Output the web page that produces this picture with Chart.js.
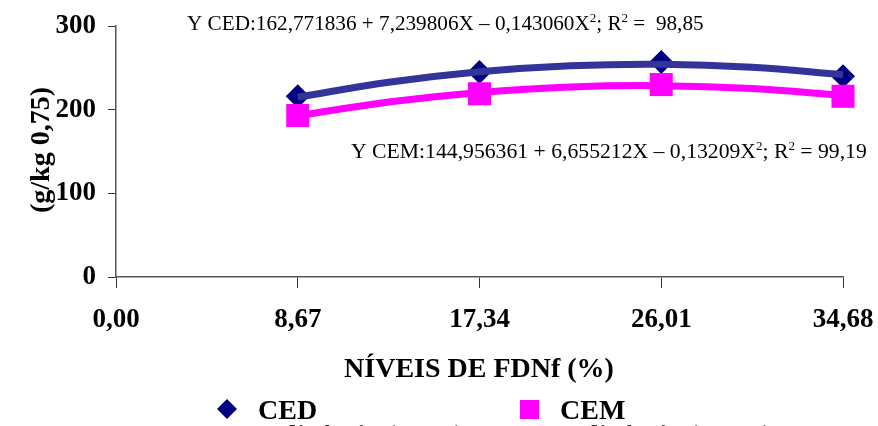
<!DOCTYPE html>
<html>
<head>
<meta charset="utf-8">
<script src="https://cdn.jsdelivr.net/npm/chart.js@4.4.1/dist/chart.umd.min.js"></script>
<style>
  html, body { margin: 0; padding: 0; background: #ffffff; }
  #wrap { width: 878px; height: 426px; position: relative; }
</style>
</head>
<body>
<div id="wrap"><canvas id="c" width="878" height="426"></canvas></div>
<script>
// FDNf levels (%) and energy intake (g/kg 0,75)
const levels = [8.67, 17.34, 26.01, 34.68];
const xTickValues = [0, 8.67, 17.34, 26.01, 34.68];
const xTickLabels = ['0,00', '8,67', '17,34', '26,01', '34,68'];
const yTickValues = [0, 100, 200, 300];

const ced = [216, 245, 257, 240];
const cem = [193, 219, 230, 216];

// fitted polynomial curves, sampled at the levels and half-way between them
const trendLevels = [8.67, 13.005, 17.34, 21.675, 26.01, 30.345, 34.68];
const cedTrend = [214.8, 232.7, 245.3, 252.5, 254.3, 250.7, 241.8];
const cemTrend = [192.7, 209.2, 220.6, 227.2, 228.7, 225.3, 216.9];

const eqCED = [['Y CED:162,771836 + 7,239806X \u2013 0,143060X'], ['2', 1], ['; R'], ['2', 1], [' =  98,85']];
const eqCEM = [['Y CEM:144,956361 + 6,655212X \u2013 0,13209X'], ['2', 1], ['; R'], ['2', 1], [' = 99,19']];

const SERIF = '"Liberation Serif", "Times New Roman", serif';

function pts(xs, ys) { return xs.map((x, i) => ({ x: x, y: ys[i] })); }

function drawRich(ctx, parts, x, y, size) {
  let cx = x;
  parts.forEach(p => {
    const sup = p[1] === 1;
    ctx.font = (sup ? Math.round(size * 0.62) : size) + 'px ' + SERIF;
    ctx.fillText(p[0], cx, sup ? y - size * 0.38 : y);
    cx += ctx.measureText(p[0]).width;
  });
}

const overlay = {
  id: 'overlay',
  afterDraw(chart) {
    const ctx = chart.ctx;
    ctx.save();
    ctx.fillStyle = '#000';
    ctx.textBaseline = 'alphabetic';
    ctx.textAlign = 'left';

    // regression equations
    drawRich(ctx, eqCED, 187, 30, 21.2);
    drawRich(ctx, eqCEM, 351, 158, 21.7);

    // axis titles
    ctx.font = 'bold 28px ' + SERIF;
    ctx.textAlign = 'center';
    ctx.fillText('N\u00cdVEIS DE FDNf (%)', 479, 377);
    ctx.save();
    ctx.translate(49, 150);
    ctx.rotate(-Math.PI / 2);
    ctx.fillText('(g/kg 0,75)', 0, 0);
    ctx.restore();

    // legend
    ctx.textAlign = 'left';
    ctx.fillStyle = '#000080';
    ctx.beginPath();
    ctx.moveTo(227, 399); ctx.lineTo(237, 409); ctx.lineTo(227, 419); ctx.lineTo(217, 409);
    ctx.closePath(); ctx.fill();
    ctx.fillStyle = '#ff00ff';
    ctx.fillRect(520, 400, 19, 19);
    ctx.fillStyle = '#000';
    ctx.font = 'bold 28px ' + SERIF;
    ctx.fillText('CED', 258, 419);
    ctx.fillText('CEM', 560, 419);
    ctx.fillStyle = '#333';
    ctx.fillText('Polin\u00f4mio (CED)', 258, 444);
    ctx.fillText('Polin\u00f4mio (CEM)', 560, 444);
    ctx.restore();
  }
};

new Chart(document.getElementById('c'), {
  type: 'scatter',
  data: {
    datasets: [
      {
        label: 'Polin\u00f4mio (CEM)', data: pts(trendLevels, cemTrend), showLine: true,
        borderColor: '#ff00ff', borderWidth: 7, tension: 0.4, pointRadius: 0, order: 0, clip: false
      },
      {
        label: 'Polin\u00f4mio (CED)', data: pts(trendLevels, cedTrend), showLine: true,
        borderColor: '#333399', borderWidth: 7, tension: 0.4, pointRadius: 0, order: 1, clip: false
      },
      {
        label: 'CEM', data: pts(levels, cem), pointStyle: 'rect', pointRadius: 16.3,
        backgroundColor: '#ff00ff', borderColor: '#ff00ff', borderWidth: 0, order: 2, clip: false
      },
      {
        label: 'CED', data: pts(levels, ced), pointStyle: 'rectRot', pointRadius: 12,
        backgroundColor: '#000080', borderColor: '#000080', borderWidth: 0, order: 3, clip: false
      }
    ]
  },
  options: {
    responsive: false,
    animation: false,
    events: [],
    layout: { padding: { top: 26, right: 35, left: 0, bottom: 0 } },
    plugins: { legend: { display: false }, tooltip: { enabled: false } },
    scales: {
      x: {
        type: 'linear', min: 0, max: 34.68,
        afterBuildTicks: s => { s.ticks = xTickValues.map(v => ({ value: v })); },
        afterFit: s => { s.height = 149; s.paddingLeft = 0; s.paddingRight = 0; },
        ticks: {
          autoSkip: false, maxRotation: 0, padding: 16, color: '#000',
          font: { family: SERIF, size: 27, weight: 'bold' },
          callback: (v, i) => xTickLabels[i]
        },
        grid: { drawOnChartArea: false, tickLength: 11, color: '#333' },
        border: { color: '#555', width: 1.5 }
      },
      y: {
        min: 0, max: 300,
        afterBuildTicks: s => { s.ticks = yTickValues.map(v => ({ value: v })); },
        afterFit: s => { s.width = 116; s.paddingTop = 0; s.paddingBottom = 0; },
        ticks: {
          padding: 12, color: '#000',
          font: { family: SERIF, size: 27, weight: 'bold' }
        },
        grid: { drawOnChartArea: false, tickLength: 8, color: '#333' },
        border: { color: '#555', width: 1.5 }
      }
    }
  },
  plugins: [overlay]
});
</script>
</body>
</html>
